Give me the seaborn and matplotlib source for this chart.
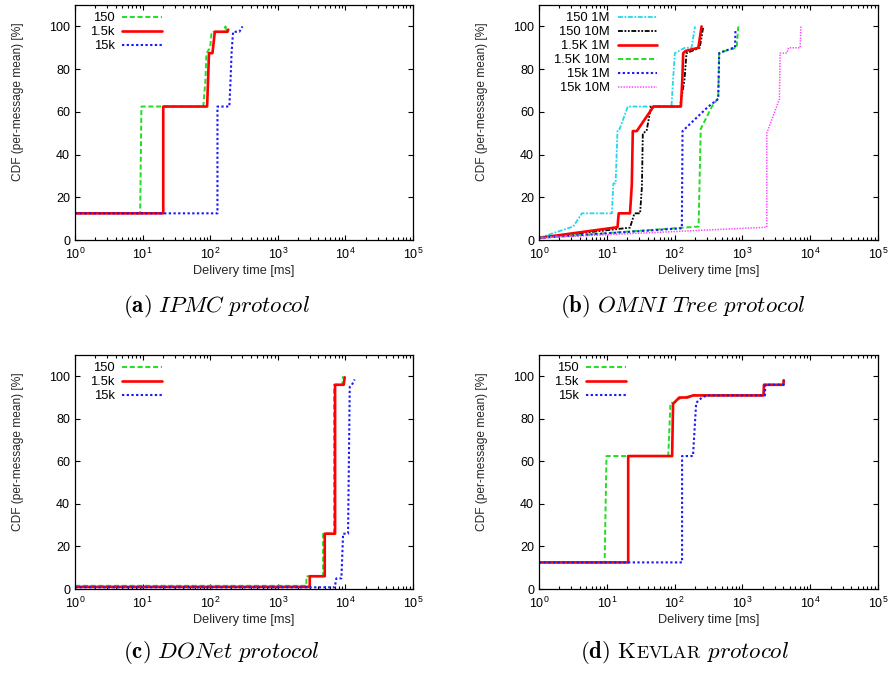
#!/usr/bin/env python3
import pandas as pd
import matplotlib
matplotlib.use("Agg")
import matplotlib.pyplot as plt
import seaborn as sns

sns.set_theme(style="ticks")
plt.rcParams["font.family"] = ["Liberation Sans", "DejaVu Sans"]
plt.rcParams["mathtext.default"] = "regular"
plt.rcParams["axes.edgecolor"] = "black"
plt.rcParams["text.color"] = "black"
plt.rcParams["xtick.color"] = "black"
plt.rcParams["ytick.color"] = "black"

# (a) IPMC
A_150_X = [1, 9.2, 9.6, 79, 85, 88, 100, 105, 165, 168, 172, 178]
A_150_Y = [12.5, 12.5, 62.5, 62.5, 75, 87.5, 90, 97.5, 97.5, 100, 97.5, 98.5]
A_1K5_X = [1, 20.2, 20.2, 90, 93, 96, 108, 117, 180, 185]
A_1K5_Y = [12.5, 12.5, 62.5, 62.5, 75, 87.5, 87.5, 97.5, 97.5, 98.5]
A_15K_X = [1, 128, 128, 192, 200, 207, 218, 270, 300]
A_15K_Y = [12.5, 12.5, 62.5, 62.5, 75, 87.5, 97.5, 97.5, 100]

# (b) OMNI Tree
B_150_1M_X = [1, 3.2, 4.3, 11.9, 12.5, 13.5, 14.4, 15.5, 20.4, 90, 95, 101, 142, 178, 200]
B_150_1M_Y = [1, 6.3, 12.5, 12.5, 26.5, 26.5, 51.5, 52, 62.5, 62.5, 75, 87.5, 90, 90, 100]
B_150_10M_X = [1, 22, 25.6, 31, 33, 34, 38.6, 45, 120, 140, 150, 235, 250, 265]
B_150_10M_Y = [1, 5.8, 12.5, 12.5, 25, 50, 51, 62.5, 62.5, 75, 87.5, 90, 95, 100]
B_1K5_1M_X = [1, 14.4, 15, 22, 23.4, 24.2, 27.7, 48.9, 124, 130, 134, 145, 224, 250]
B_1K5_1M_Y = [1, 6, 12.5, 12.5, 26, 51, 51, 62.5, 62.5, 75, 87.5, 88.5, 90, 100]
B_1K5_10M_X = [1, 226, 243, 355, 440, 455, 480, 824, 870]
B_1K5_10M_Y = [1, 6.3, 52, 62.5, 66.5, 87.5, 88, 90, 100]
B_15K_1M_X = [1, 128, 131, 315, 440, 455, 735, 780, 790]
B_15K_1M_Y = [1, 5.5, 51, 62.5, 66, 87.5, 90, 90, 98]
B_15K_10M_X = [1, 2290, 2290, 3520, 3600, 4520, 4800, 7110, 7300]
B_15K_10M_Y = [1, 6, 50, 66, 87.5, 87.5, 90, 90, 100]

# (c) DONet
C_150_X = [1, 2650, 2650, 4680, 4680, 6800, 6800, 9030, 9200]
C_150_Y = [1.5, 1.5, 6, 6, 26, 26, 96, 96, 100]
C_1K5_X = [1, 2970, 2970, 4950, 4950, 7040, 7040, 9450, 9770]
C_1K5_Y = [1, 1, 6, 6, 26, 26, 96, 96, 99.5]
C_15K_X = [1, 6950, 7360, 8730, 9250, 10950, 11600, 12500, 13700]
C_15K_Y = [0.8, 0.8, 5, 5, 26, 26, 95, 96, 98.5]

# (d) Kevlar
D_150_X = [1, 9.3, 9.9, 80.6, 87, 95.6, 127, 200, 2040, 2110, 4040, 4100]
D_150_Y = [12.5, 12.5, 62.5, 62.5, 87.5, 87.5, 90, 91, 91, 96, 96, 100]
D_1K5_X = [1, 20.7, 20.7, 92, 95, 117, 154, 187, 2050, 2080, 4040, 4060]
D_1K5_Y = [12.5, 12.5, 62.5, 62.5, 87, 90, 90, 91, 91, 96, 96, 98]
D_15K_X = [1, 129, 129, 187, 208, 253, 300, 2150, 2180, 4050, 4100]
D_15K_Y = [12.5, 12.5, 62.5, 62.5, 87.5, 90, 91, 91, 96, 96, 98]

# colour, dash pattern, line width per series label
STYLE = {
    "150": ("#22dd22", (2.6, 1.4), 1.4),
    "1.5k": ("#ff0000", "", 1.9),
    "15k": ("#1a1aff", (1.1, 1.15), 1.5),
    "150 1M": ("#22d8ee", (2.7, 0.9, 1, 0.9), 1.3),
    "150 10M": ("#000000", (2.7, 0.9, 1, 0.9, 1, 0.9), 1.3),
    "1.5K 1M": ("#ff0000", "", 1.9),
    "1.5K 10M": ("#22dd22", (2.6, 1.4), 1.4),
    "15k 1M": ("#1a1aff", (1.1, 1.15), 1.5),
    "15k 10M": ("#ff44ff", (0.9, 0.9), 1.1),
}


def draw_panel(rect, series, ylab_y):
    ax = fig.add_axes(rect)
    rows = []
    for name, xs, ys in series:
        for x, y in zip(xs, ys):
            rows.append({"series": name, "time": x, "cdf": y})
    df = pd.DataFrame(rows)
    names = [s[0] for s in series]
    sns.lineplot(data=df, x="time", y="cdf", hue="series", style="series",
                 size="series", hue_order=names, style_order=names,
                 size_order=names,
                 palette={n: STYLE[n][0] for n in names},
                 dashes={n: STYLE[n][1] for n in names},
                 sizes={n: STYLE[n][2] for n in names},
                 estimator=None, sort=False, legend=False, ax=ax)
    ax.set_xscale("log")
    ax.set_xlim(1, 1e5)
    ax.set_ylim(0, 110)
    ax.set_yticks([0, 20, 40, 60, 80, 100])
    ax.tick_params(which="both", direction="in", top=True, right=True,
                   labelsize=9, width=0.8)
    ax.tick_params(which="major", length=3.6)
    ax.tick_params(axis="x", which="major", pad=5)
    ax.tick_params(which="minor", length=2)
    for sp in ax.spines.values():
        sp.set_linewidth(0.9)
    ax.set_xlabel("Delivery time [ms]", fontsize=9.2, labelpad=2)
    ax.set_ylabel("CDF (per-message mean) [%]", fontsize=8.6)
    ax.yaxis.set_label_coords(-0.151, ylab_y)
    ax.legend(ax.lines[:len(names)], names, loc="upper left",
              bbox_to_anchor=(0.045, 0.97), frameon=False, markerfirst=False,
              fontsize=9.4, handlelength=3.0, handletextpad=0.6,
              labelspacing=0.14, borderpad=0, borderaxespad=0)
    return ax


fig = plt.figure(figsize=(8.91, 6.75), dpi=100)

draw_panel([0.0842, 0.6444, 0.3793, 0.3481],
           [("150", A_150_X, A_150_Y), ("1.5k", A_1K5_X, A_1K5_Y),
            ("15k", A_15K_X, A_15K_Y)], 0.587)
draw_panel([0.6049, 0.6444, 0.3805, 0.3481],
           [("150 1M", B_150_1M_X, B_150_1M_Y),
            ("150 10M", B_150_10M_X, B_150_10M_Y),
            ("1.5K 1M", B_1K5_1M_X, B_1K5_1M_Y),
            ("1.5K 10M", B_1K5_10M_X, B_1K5_10M_Y),
            ("15k 1M", B_15K_1M_X, B_15K_1M_Y),
            ("15k 10M", B_15K_10M_X, B_15K_10M_Y)], 0.587)
draw_panel([0.0842, 0.1274, 0.3793, 0.3467],
           [("150", C_150_X, C_150_Y), ("1.5k", C_1K5_X, C_1K5_Y),
            ("15k", C_15K_X, C_15K_Y)], 0.587)
draw_panel([0.6049, 0.1274, 0.3805, 0.3467],
           [("150", D_150_X, D_150_Y), ("1.5k", D_1K5_X, D_1K5_Y),
            ("15k", D_15K_X, D_15K_Y)], 0.587)

# captions
cap = dict(fontsize=16.5, math_fontfamily="cm", va="baseline")
fig.text(0.243, 0.5378, r"$\mathbf{(a)}\ \mathit{IPMC\ protocol}$", ha="center", **cap)
fig.text(0.766, 0.5378, r"$\mathbf{(b)}\ \mathit{OMNI\ Tree\ protocol}$", ha="center", **cap)
fig.text(0.248, 0.0252, r"$\mathbf{(c)}\ \mathit{DONet\ protocol}$", ha="center", **cap)

# (d) with small caps KEVLAR built from pieces, then centred
fig.canvas.draw()
r = fig.canvas.get_renderer()
W = fig.bbox.width
pieces = []
t1 = fig.text(0.6, 0.0252, r"$\mathbf{(d)}\ \mathrm{K}$", ha="left", **cap)
pieces.append(t1)
x1 = t1.get_window_extent(r).x1
t2 = fig.text(x1 / W, 0.0252, r"$\mathrm{EVLAR}$", ha="left",
              fontsize=12.9, math_fontfamily="cm", va="baseline")
pieces.append(t2)
x2 = t2.get_window_extent(r).x1
t3 = fig.text(x2 / W, 0.0252, r"$\ \mathit{protocol}$", ha="left", **cap)
pieces.append(t3)
x3 = t3.get_window_extent(r).x1
x0 = t1.get_window_extent(r).x0
shift = 0.768 - (x0 + x3) / 2 / W
for t in pieces:
    t.set_x(t.get_position()[0] + shift)

fig.savefig("out.png", dpi=100)
